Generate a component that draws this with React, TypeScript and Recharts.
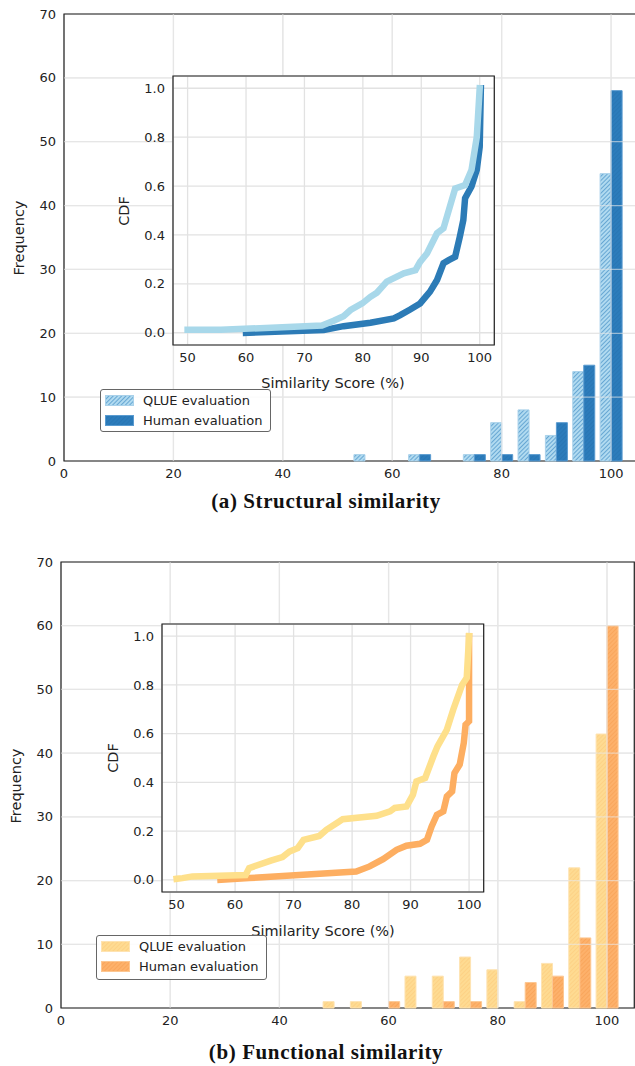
import React from "react";
import {
  BarChart,
  Bar,
  LineChart,
  Line,
  XAxis,
  YAxis,
  CartesianGrid,
  ReferenceLine,
  ReferenceArea,
} from "recharts";

// histogram bins (centre of each 5-point bin)
const bins = [50, 55, 60, 65, 70, 75, 80, 85, 90, 95, 100];
const structQlue = [0, 1, 0, 1, 0, 1, 6, 8, 4, 14, 45];
const structHuman = [0, 0, 0, 1, 0, 1, 1, 1, 6, 15, 58];
const funcQlue = [1, 1, 0, 5, 5, 8, 6, 1, 7, 22, 43];
const funcHuman = [0, 0, 1, 0, 1, 1, 0, 4, 5, 11, 60];

const freqTicks = [0, 10, 20, 30, 40, 50, 60, 70];
const scoreTicks = [0, 20, 40, 60, 80, 100];
const cdfXTicks = [50, 60, 70, 80, 90, 100];
const cdfYTicks = [0, 0.2, 0.4, 0.6, 0.8, 1.0];

// CDF curves: [score, cdf]
const structQlueCdf = [
  [50, 0.012], [55.7, 0.012], [73, 0.03], [75, 0.049], [76.7, 0.068], [77.9, 0.093],
  [79.9, 0.12], [81.3, 0.147], [82.4, 0.164], [84.1, 0.209], [87, 0.243], [89, 0.256],
  [89.8, 0.29], [91, 0.325], [92.7, 0.407], [93.8, 0.427], [95.8, 0.59], [97.5, 0.604],
  [98.6, 0.666], [99.5, 0.8], [100, 1.0],
];
const structHumanCdf = [
  [60, 0.0], [73.3, 0.011], [76.7, 0.027], [81.3, 0.041], [85.3, 0.059], [86.4, 0.072],
  [88.1, 0.095], [89.8, 0.12], [91.5, 0.168], [92.7, 0.216], [93.8, 0.284], [94.7, 0.297],
  [95.8, 0.311], [96.6, 0.393], [97.2, 0.461], [97.5, 0.55], [98.6, 0.598], [99.5, 0.666],
  [100, 0.76], [100.2, 1.0],
];
const funcQlueCdf = [
  [50, 0.004], [51, 0.007], [52.7, 0.014], [61.8, 0.02], [62.4, 0.048], [66.1, 0.079],
  [68.1, 0.093], [69.3, 0.116], [70.7, 0.13], [71.7, 0.164], [74.4, 0.18], [75.6, 0.205],
  [77.6, 0.236], [78.4, 0.249], [84.2, 0.263], [86.5, 0.281], [87.3, 0.295], [89.3, 0.301],
  [90.4, 0.349], [91, 0.404], [92.5, 0.418], [93.9, 0.507], [94.6, 0.548], [96.2, 0.616],
  [97.3, 0.699], [98.8, 0.8], [99.6, 0.829], [100, 1.0],
];
const funcHumanCdf = [
  [57.5, 0.0], [62.4, 0.007], [80.7, 0.034], [83, 0.055], [85.3, 0.085], [87.6, 0.123],
  [89.3, 0.14], [91.6, 0.148], [92.8, 0.164], [93.6, 0.219], [94.5, 0.267], [95.6, 0.281],
  [96.2, 0.342], [97.1, 0.363], [97.5, 0.438], [98.4, 0.473], [99.1, 0.562], [99.4, 0.637],
  [100, 0.651], [100, 1.0],
];

const toRows = (qlue: number[], human: number[]) =>
  bins.map((bin, i) => ({ bin, qlue: qlue[i], human: human[i] }));
const toPts = (arr: number[][]) => arr.map(([score, cdf]) => ({ score, cdf }));

const FONT = "DejaVu Sans, sans-serif";
const tickStyle = { fill: "#222", fontSize: 13, fontFamily: FONT };

const Patterns = () => (
  <svg width={0} height={0} style={{ position: "absolute" }}>
    <defs>
      <pattern id="hQlueBlue" width="3" height="3" patternUnits="userSpaceOnUse" patternTransform="rotate(45)">
        <rect width="3" height="3" fill="#b0daf0" />
        <line x1="0" y1="0" x2="0" y2="3" stroke="#3585c0" strokeWidth="1.2" />
      </pattern>
      <pattern id="hHumanBlue" width="3" height="3" patternUnits="userSpaceOnUse" patternTransform="rotate(45)">
        <rect width="3" height="3" fill="#2c7cbb" />
        <line x1="0" y1="0" x2="0" y2="3" stroke="#2670ad" strokeWidth="1" />
      </pattern>
      <pattern id="hQlueOrange" width="3" height="3" patternUnits="userSpaceOnUse" patternTransform="rotate(45)">
        <rect width="3" height="3" fill="#fedb92" />
        <line x1="0" y1="0" x2="0" y2="3" stroke="#fdc878" strokeWidth="1" />
      </pattern>
      <pattern id="hHumanOrange" width="3" height="3" patternUnits="userSpaceOnUse" patternTransform="rotate(45)">
        <rect width="3" height="3" fill="#fdb16b" />
        <line x1="0" y1="0" x2="0" y2="3" stroke="#f59b4d" strokeWidth="1" />
      </pattern>
    </defs>
  </svg>
);

type Box = { l: number; t: number; r: number; b: number };

const Hist = ({ box, top, width, height, data, qFill, hFill, qStroke, hStroke }: any) => {
  const b: Box = box;
  return (
    <div style={{ position: "absolute", left: 0, top }}>
      <BarChart
        width={width}
        height={height}
        data={data}
        margin={{ top: b.t - top, right: width - b.r, bottom: height - (b.b - top) - 20, left: b.l - 40 }}
        barCategoryGap="10%"
        barGap={0}
      >
        <CartesianGrid stroke="#e4e4e4" strokeWidth={1.3} />
        <XAxis
          type="number"
          dataKey="bin"
          domain={[0, 105]}
          ticks={scoreTicks}
          allowDataOverflow
          axisLine={false}
          tickLine={false}
          tick={tickStyle}
          height={20}
        />
        <YAxis
          domain={[0, 70]}
          ticks={freqTicks}
          axisLine={false}
          tickLine={false}
          tick={tickStyle}
          width={40}
        />
        <Bar dataKey="qlue" fill={qFill} stroke={qStroke} strokeWidth={1} isAnimationActive={false} />
        <Bar dataKey="human" fill={hFill} stroke={hStroke} strokeWidth={1} isAnimationActive={false} />
        {freqTicks.slice(1, -1).map((v) => (
          <ReferenceLine key={"y" + v} y={v} stroke="#e8e8e8" strokeOpacity={0.6} strokeWidth={1.3} />
        ))}
        {scoreTicks.slice(1).map((v) => (
          <ReferenceLine key={"x" + v} x={v} stroke="#e8e8e8" strokeOpacity={0.6} strokeWidth={1.3} />
        ))}
        <ReferenceArea x1={0} x2={105} y1={0} y2={70} fill="none" stroke="#222" strokeWidth={1.2} ifOverflow="visible" />
      </BarChart>
    </div>
  );
};

const Inset = ({ box, qlue, human, qColor, hColor }: any) => {
  const b: Box = box;
  const left = b.l - 52;
  const top = b.t - 6;
  const width = b.r - b.l + 58;
  const height = b.b - b.t + 40;
  return (
    <div style={{ position: "absolute", left, top }}>
      <LineChart width={width} height={height} margin={{ top: 6, right: 6, bottom: 4, left: 12 }}>
        <CartesianGrid stroke="#e2e2e2" strokeWidth={1.3} fill="#fff" fillOpacity={1} />
        <XAxis
          type="number"
          dataKey="score"
          domain={[47.5, 102.5]}
          ticks={cdfXTicks}
          allowDataOverflow
          axisLine={false}
          tickLine={false}
          tick={tickStyle}
          height={30}
        />
        <YAxis
          type="number"
          domain={[-0.05, 1.05]}
          ticks={cdfYTicks}
          allowDataOverflow
          axisLine={false}
          tickLine={false}
          tick={tickStyle}
          tickFormatter={(v: number) => v.toFixed(1)}
          width={40}
        />
        <Line data={human} dataKey="cdf" type="linear" stroke={hColor} strokeWidth={6.5} strokeLinecap="square" dot={false} isAnimationActive={false} />
        <Line data={qlue} dataKey="cdf" type="linear" stroke={qColor} strokeWidth={6.5} strokeLinecap="square" dot={false} isAnimationActive={false} />
        <ReferenceArea x1={47.5} x2={102.5} y1={-0.05} y2={1.05} fill="none" stroke="#222" strokeWidth={1.2} ifOverflow="visible" />
      </LineChart>
    </div>
  );
};

const Label = ({ x, y, text, rotate = false, size = 14.5 }: any) => (
  <div
    style={{
      position: "absolute",
      left: x,
      top: y,
      transform: `translate(-50%, -50%)${rotate ? " rotate(-90deg)" : ""}`,
      fontFamily: FONT,
      fontSize: size,
      color: "#222",
      whiteSpace: "nowrap",
      lineHeight: "1",
    }}
  >
    {text}
  </div>
);

const LegendBox = ({ left, top, height, items }: any) => (
  <div
    style={{
      position: "absolute",
      left,
      top,
      width: 171,
      height,
      boxSizing: "border-box",
      border: "1px solid #666",
      borderRadius: 3,
      background: "rgba(255,255,255,0.85)",
      fontFamily: FONT,
      fontSize: 13,
      color: "#222",
    }}
  >
    {items.map((it: any, i: number) => (
      <div key={it.name} style={{ position: "absolute", left: 0, top: 5 + i * 19.5, height: 12, width: 171 }}>
        <svg width={30} height={12} style={{ position: "absolute", left: 4, top: 0 }}>
          <rect x={0.5} y={0.5} width={28} height={10} fill={it.fill} stroke={it.stroke} strokeWidth={1} />
        </svg>
        <span style={{ position: "absolute", left: 42, top: -1, lineHeight: "13px" }}>{it.name}</span>
      </div>
    ))}
  </div>
);

const Caption = ({ top, text }: any) => (
  <div
    style={{
      position: "absolute",
      left: 0,
      width: 652,
      top,
      textAlign: "center",
      fontFamily: "Liberation Serif, serif",
      fontWeight: "bold",
      fontSize: 21,
      letterSpacing: 0.6,
      lineHeight: "24px",
      color: "#111",
    }}
  >
    {text}
  </div>
);

export default function App() {
  return (
    <div
      style={{
        position: "absolute",
        left: 0,
        top: 0,
        width: 635,
        height: 1066,
        overflow: "hidden",
        background: "#fff",
      }}
    >
      <Patterns />

      {/* (a) structural */}
      <Hist
        box={{ l: 64, t: 14, r: 638.4, b: 461 }}
        top={0}
        width={640}
        height={490}
        data={toRows(structQlue, structHuman)}
        qFill="url(#hQlueBlue)"
        hFill="url(#hHumanBlue)"
        qStroke="#a9d1ea"
        hStroke="#5a9bd0"
      />
      <Label x={19} y={238} text="Frequency" rotate />
      <Inset
        box={{ l: 172.7, t: 76, r: 494, b: 345 }}
        qlue={toPts(structQlueCdf)}
        human={toPts(structHumanCdf)}
        qColor="#a8d8ea"
        hColor="#2c7bb6"
      />
      <Label x={124} y={211} text="CDF" rotate />
      <Label x={333} y={383} text="Similarity Score (%)" />
      <LegendBox
        left={100}
        top={389}
        height={43}
        items={[
          { name: "QLUE evaluation", fill: "url(#hQlueBlue)", stroke: "#a9d1ea" },
          { name: "Human evaluation", fill: "url(#hHumanBlue)", stroke: "#5a9bd0" },
        ]}
      />
      <Caption top={489} text="(a) Structural similarity" />

      {/* (b) functional */}
      <Hist
        box={{ l: 61, t: 562, r: 634.3, b: 1008 }}
        top={540}
        width={635}
        height={500}
        data={toRows(funcQlue, funcHuman)}
        qFill="url(#hQlueOrange)"
        hFill="url(#hHumanOrange)"
        qStroke="#fee3b2"
        hStroke="#fdc792"
      />
      <Label x={16} y={786} text="Frequency" rotate />
      <Inset
        box={{ l: 162.3, t: 624, r: 484, b: 892 }}
        qlue={toPts(funcQlueCdf)}
        human={toPts(funcHumanCdf)}
        qColor="#fee08b"
        hColor="#fdae61"
      />
      <Label x={113} y={758} text="CDF" rotate />
      <Label x={323} y={931} text="Similarity Score (%)" />
      <LegendBox
        left={96}
        top={935}
        height={45}
        items={[
          { name: "QLUE evaluation", fill: "url(#hQlueOrange)", stroke: "#fee3b2" },
          { name: "Human evaluation", fill: "url(#hHumanOrange)", stroke: "#fdc792" },
        ]}
      />
      <Caption top={1040} text="(b) Functional similarity" />
    </div>
  );
}
